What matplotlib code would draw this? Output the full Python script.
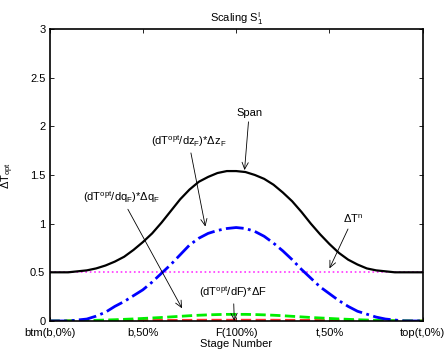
import matplotlib
matplotlib.use("Agg")
import matplotlib.pyplot as plt

plt.rcParams['font.family'] = ['Liberation Sans', 'DejaVu Sans']
plt.rcParams['mathtext.fontset'] = 'custom'
plt.rcParams['mathtext.rm'] = 'Liberation Sans'
plt.rcParams['mathtext.it'] = 'Liberation Sans'

# stage position (0 = btm, 2 = feed, 4 = top)
stage = [0.0, 0.1, 0.2, 0.3, 0.4, 0.5, 0.6, 0.7, 0.8, 0.9,
         1.0, 1.1, 1.2, 1.3, 1.4, 1.5, 1.6, 1.7, 1.8, 1.9,
         2.0, 2.1, 2.2, 2.3, 2.4, 2.5, 2.6, 2.7, 2.8, 2.9,
         3.0, 3.1, 3.2, 3.3, 3.4, 3.5, 3.6, 3.7, 3.8, 3.9, 4.0]
tick_pos = [0, 1, 2, 3, 4]
tick_labels = ['btm(b,0%)', 'b,50%', 'F(100%)', 't,50%', 'top(t,0%)']

span = [0.50, 0.50, 0.50, 0.51, 0.52, 0.54, 0.57, 0.61, 0.66, 0.73,
        0.81, 0.90, 1.01, 1.13, 1.25, 1.35, 1.43, 1.48, 1.52, 1.54,
        1.54, 1.53, 1.50, 1.46, 1.40, 1.32, 1.23, 1.12, 1.00, 0.89,
        0.79, 0.70, 0.63, 0.58, 0.54, 0.52, 0.51, 0.50, 0.50, 0.50, 0.50]
dz = [0.00, 0.00, 0.00, 0.01, 0.02, 0.05, 0.09, 0.15, 0.20, 0.26,
      0.32, 0.40, 0.49, 0.58, 0.68, 0.78, 0.85, 0.90, 0.93, 0.95,
      0.96, 0.95, 0.92, 0.87, 0.80, 0.72, 0.63, 0.53, 0.44, 0.35,
      0.28, 0.21, 0.15, 0.10, 0.07, 0.04, 0.02, 0.01, 0.00, 0.00, 0.00]
dq = [0.000, 0.001, 0.002, 0.003, 0.005, 0.007, 0.010, 0.013, 0.017, 0.021,
      0.026, 0.031, 0.036, 0.042, 0.048, 0.054, 0.059, 0.063, 0.066, 0.068,
      0.068, 0.068, 0.066, 0.063, 0.059, 0.054, 0.048, 0.042, 0.036, 0.031,
      0.026, 0.021, 0.017, 0.013, 0.010, 0.007, 0.005, 0.003, 0.002, 0.001, 0.000]
dF = [0.000, 0.000, 0.001, 0.001, 0.002, 0.002, 0.003, 0.003, 0.004, 0.004,
      0.005, 0.005, 0.006, 0.006, 0.007, 0.007, 0.008, 0.008, 0.008, 0.008,
      0.008, 0.008, 0.008, 0.008, 0.008, 0.007, 0.007, 0.006, 0.006, 0.005,
      0.005, 0.004, 0.004, 0.003, 0.003, 0.002, 0.002, 0.001, 0.001, 0.000, 0.000]
dTn = [0.5] * len(stage)

fig = plt.figure(figsize=(4.46, 3.53), dpi=100)
ax = fig.add_axes([0.111, 0.0907, 0.837, 0.8273])

ax.plot(stage, dTn, color='#ff33ff', linestyle=':', linewidth=1.2)
ax.plot(stage, dF, color='#ff3030', linestyle='--', linewidth=2)
ax.plot(stage, dq, color='#00ee00', linestyle='--', linewidth=2)
ax.plot(stage, dz, color='#0000ff', linestyle='-.', linewidth=2)
ax.plot(stage, span, color='black', linestyle='-', linewidth=1.6)

ax.set_xlim(0, 4)
ax.set_ylim(0, 3)
ax.set_xticks(tick_pos)
ax.set_xticklabels(tick_labels)
ax.set_yticks([0, 0.5, 1, 1.5, 2, 2.5, 3])
ax.set_yticklabels(['0', '0.5', '1', '1.5', '2', '2.5', '3'])
ax.tick_params(direction='in', length=3, width=0.6, labelsize=8, pad=3,
               top=True, right=True)
ax.tick_params(axis='x', pad=5)
for s in ax.spines.values():
    s.set_linewidth(1.2)

ax.set_title('Scaling S$_1^\\mathrm{I}$', fontsize=8, pad=5)
ax.set_xlabel('Stage Number', fontsize=8, labelpad=1)
ax.set_ylabel('ΔT$_\\mathrm{opt}$', fontsize=8, labelpad=10)

# annotations: text centre and arrow tip in data units
arrow = dict(arrowstyle='->,head_length=0.6,head_width=0.28', color='black',
             linewidth=0.6, shrinkA=1, shrinkB=0)
ax.annotate('Span', xy=(2.09, 1.55), xytext=(2.14, 2.14),
            ha='center', va='center', fontsize=8, arrowprops=arrow)
ax.annotate('(dT$^\\mathrm{opt}$/dz$_\\mathrm{F}$)*Δz$_\\mathrm{F}$',
            xy=(1.67, 0.97), xytext=(1.49, 1.85),
            ha='center', va='center', fontsize=8, arrowprops=arrow)
ax.annotate('(dT$^\\mathrm{opt}$/dq$_\\mathrm{F}$)*Δq$_\\mathrm{F}$',
            xy=(1.42, 0.13), xytext=(0.77, 1.27),
            ha='center', va='center', fontsize=8, arrowprops=arrow)
ax.annotate('(dT$^\\mathrm{opt}$/dF)*ΔF',
            xy=(1.98, 0.0), xytext=(1.97, 0.30),
            ha='center', va='center', fontsize=8, arrowprops=arrow)
ax.annotate('ΔT$^\\mathrm{n}$',
            xy=(3.0, 0.54), xytext=(3.25, 1.05),
            ha='center', va='center', fontsize=8, arrowprops=arrow)

fig.savefig('out.png', dpi=100)
